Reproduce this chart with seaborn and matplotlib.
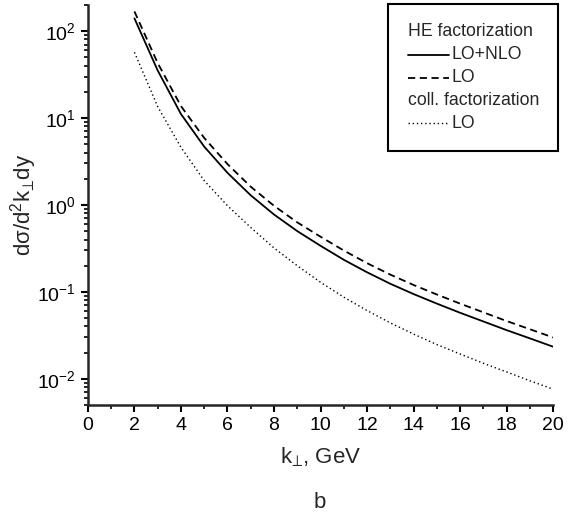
import numpy as np
import pandas as pd
import seaborn as sns
from matplotlib import pyplot as plt
from matplotlib.lines import Line2D
from matplotlib.offsetbox import AnchoredOffsetbox, VPacker, HPacker, TextArea, DrawingArea
from matplotlib.ticker import LogLocator, MultipleLocator, NullFormatter

k_perp = [2, 3, 4, 5, 6, 7, 8, 9, 10, 11, 12, 13, 14, 15, 16, 17, 18, 19, 20]
he_lo_nlo = [140, 35.2, 11.1, 4.68, 2.34, 1.29, 0.776, 0.50, 0.339, 0.234, 0.168, 0.124,
             0.0944, 0.0733, 0.0575, 0.0457, 0.0363, 0.0292, 0.0234]
he_lo = [168, 42.8, 13.7, 5.89, 2.95, 1.62, 0.977, 0.63, 0.431, 0.299, 0.214, 0.158,
         0.120, 0.0933, 0.0733, 0.0582, 0.0462, 0.0372, 0.0299]
coll_lo = [57, 13.5, 4.6, 1.9, 0.98, 0.55, 0.32, 0.20, 0.129, 0.087, 0.061, 0.044,
           0.0327, 0.0248, 0.0193, 0.0151, 0.012, 0.0095, 0.0076]

df = pd.concat([
    pd.DataFrame({'k': k_perp, 'sigma': he_lo_nlo, 'curve': 'HE LO+NLO'}),
    pd.DataFrame({'k': k_perp, 'sigma': he_lo, 'curve': 'HE LO'}),
    pd.DataFrame({'k': k_perp, 'sigma': coll_lo, 'curve': 'coll LO'}),
])

sns.set_style("ticks")
plt.rcParams['font.family'] = ['Liberation Sans', 'DejaVu Sans']
plt.rcParams['mathtext.fontset'] = 'custom'
plt.rcParams['mathtext.rm'] = 'Liberation Sans'
plt.rcParams['mathtext.it'] = 'Liberation Sans'

fig = plt.figure(figsize=(5.86, 5.17), dpi=100)
ax = fig.add_axes([0.150, 0.2166, 0.794, 0.774])

# dashes, linewidth for each curve
styles = {'HE LO+NLO': (None, 1.3), 'HE LO': ((4, 2.5), 1.3), 'coll LO': ((1, 2), 1.0)}
for name, (dash, lw) in styles.items():
    sub = df[df.curve == name]
    line = sns.lineplot(data=sub, x='k', y='sigma', color='black', lw=lw, ax=ax).lines[-1]
    if dash is not None:
        line.set_dashes(dash)

ax.set_yscale('log')
ax.set_xlim(0, 20)
ax.set_ylim(0.005, 200)

ax.xaxis.set_major_locator(MultipleLocator(2))
ax.xaxis.set_minor_locator(MultipleLocator(1))
ax.yaxis.set_major_locator(LogLocator(base=10, numticks=10))
ax.yaxis.set_minor_locator(LogLocator(base=10, subs=np.arange(2, 10), numticks=20))
ax.yaxis.set_minor_formatter(NullFormatter())

sns.despine(ax=ax)
for s in ['left', 'bottom']:
    ax.spines[s].set_linewidth(1.8)
ax.tick_params(which='major', direction='out', length=5, width=1.5, labelsize=14,
               color='black', labelcolor='black')
ax.tick_params(which='minor', direction='out', length=3, width=1.2, color='black')

ax.set_xlabel('k$_{⊥}$, GeV', fontsize=16, labelpad=8)
ax.set_ylabel('d$\\sigma$/d$^2$k$_{⊥}$dy', fontsize=16)
ax.yaxis.set_label_coords(-0.105, 0.5)
fig.text(0.545, 0.018, 'b', fontsize=16, ha='center')

# legend with two group headers
fs = 12.7
def entry(label, dashes, lw):
    da = DrawingArea(30, 8, 0, 0)
    ln = Line2D([0, 30], [4, 4], color='black', lw=lw)
    if dashes is not None:
        ln.set_dashes(dashes)
    da.add_artist(ln)
    return HPacker(children=[da, TextArea(label, textprops=dict(size=fs))],
                   align='center', pad=0, sep=2)

rows = [
    TextArea('HE factorization', textprops=dict(size=fs)),
    entry('LO+NLO', None, 1.3),
    entry('LO', (4, 2.5), 1.3),
    TextArea('coll. factorization', textprops=dict(size=fs)),
    entry('LO', (1, 2), 1.0),
]
box = VPacker(children=rows, align='left', pad=0, sep=4.3)
anc = AnchoredOffsetbox(loc='upper right', child=box, pad=1.1, borderpad=0,
                        frameon=True, prop=dict(size=fs),
                        bbox_to_anchor=(1.011, 1.003), bbox_transform=ax.transAxes)
anc.patch.set_boxstyle('square', pad=0)
anc.patch.set_edgecolor('black')
anc.patch.set_linewidth(1.5)
ax.add_artist(anc)

fig.savefig('out.png', dpi=100)
